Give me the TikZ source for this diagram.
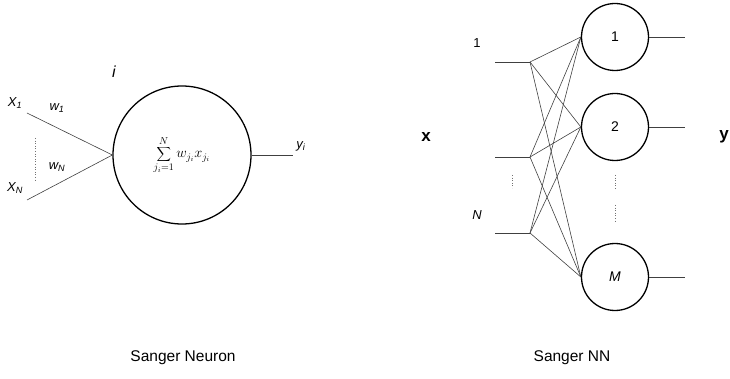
\documentclass[tikz,border=0pt]{standalone}
\usepackage{fontspec}
\setmainfont{Liberation Sans}
\begin{document}
\begin{tikzpicture}[
        x=1pt, y=-1pt,
        neuron/.style={circle, draw, line width=1.3pt, inner sep=0pt},
        link/.style={draw=black!75, line width=0.6pt},
        dots/.style={draw=black!55, dotted, line width=0.6pt},
        lbl/.style={font=\itshape\fontsize{13}{15}\selectfont},
        caption/.style={font=\fontsize{15.5}{18}\selectfont}
    ]
    \useasboundingbox (0,0) rectangle (730,379);

    % --- Neurone singolo ---
    \node[neuron, minimum size=138pt] (soma) at (182,155)
        {\fontsize{14}{17}\selectfont$\displaystyle\sum_{j_i=1}^{N} w_{j_i}x_{j_i}$};
    \node[lbl, font=\itshape\fontsize{16}{18}\selectfont] (idx) at (114,72) {i};

    % ingressi
    \coordinate (x1) at (27,113);
    \coordinate (xN) at (27,200);
    \draw[link] (x1) -- (soma.west);
    \draw[link] (xN) -- (soma.west);
    \node[lbl] (lx1) at (15,103) {X\textsubscript{1}};
    \node[lbl] (lxN) at (15,188) {X\textsubscript{N}};
    \node[lbl] (lw1) at (57,108) {w\textsubscript{1}};
    \node[lbl] (lwN) at (57,167) {w\textsubscript{N}};
    \draw[dots] (35,138) -- (35,180);

    % uscita
    \coordinate (yout) at (293,155);
    \draw[link] (soma.east) -- (yout);
    \node[lbl] (lyi) at (301,146) {y\textsubscript{i}};

    \node[caption] (capL) at (183,358) {Sanger Neuron};

    % --- Rete di Sanger ---
    \node[neuron, minimum size=67pt] (n1) at (615,37) {\fontsize{14}{16}\selectfont 1};
    \node[neuron, minimum size=67pt] (n2) at (615,127) {\fontsize{14}{16}\selectfont 2};
    \node[neuron, minimum size=67pt] (nM) at (615,277) {\fontsize{14}{16}\selectfont\itshape M};

    \foreach \n/\y in {a/62, b/157, c/233} {
        \coordinate (s\n) at (495,\y);
        \coordinate (h\n) at (530,\y);
        \draw[link] (s\n) -- (h\n);
    }
    % connessioni complete
    \foreach \i in {a,b,c}
        \foreach \j in {n1,n2,nM}
            \draw[link] (h\i) -- (\j.west);

    \foreach \j/\y in {n1/37, n2/127, nM/277} {
        \coordinate (o\j) at (685,\y);
        \draw[link] (\j.east) -- (o\j);
    }

    \node[font=\fontsize{13}{15}\selectfont] (l1) at (477,43) {1};
    \node[lbl] (lN) at (477,215) {N};
    \draw[dots] (512,175) -- (512,188);
    \draw[dots] (615,175) -- (615,190);
    \draw[dots] (615,205) -- (615,222);

    \node[font=\bfseries\fontsize{17}{19}\selectfont] (vx) at (426,137) {x};
    \node[font=\bfseries\fontsize{17}{19}\selectfont] (vy) at (724,137) {y};

    \node[caption] (capR) at (572,358) {Sanger NN};
\end{tikzpicture}
\end{document}
